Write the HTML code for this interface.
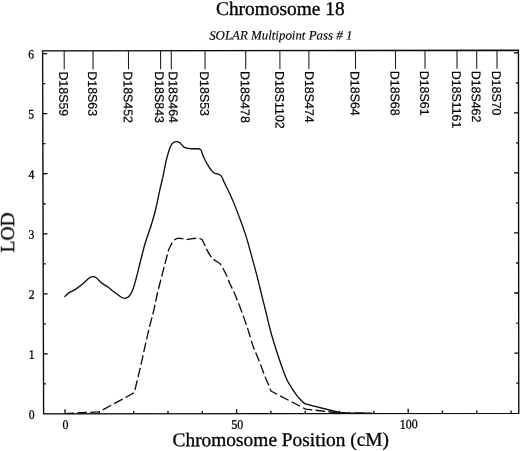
<!DOCTYPE html>
<html><head><meta charset="utf-8"><title>Chromosome 18</title>
<style>html,body{margin:0;padding:0;background:#fff}svg{display:block}text{fill:#000;stroke:#000;stroke-width:0.3px}.sans text{stroke-width:0.2px}.serif{font-family:"Liberation Serif",serif}.sans{font-family:"Liberation Sans",sans-serif}</style></head><body>
<svg width="520" height="451" viewBox="0 0 520 451">
<defs><filter id="soft" x="-2%" y="-2%" width="104%" height="104%"><feGaussianBlur stdDeviation="0.38"/></filter></defs>
<rect width="520" height="451" fill="#fff"/>
<g filter="url(#soft)">
<polygon points="42.6,50.8 518.45,50.2 518.75,413.3 43.6,413.8" fill="none" stroke="#080808" stroke-width="1.35"/>
<g transform="rotate(-0.1 281 232)">
<g fill="none" stroke="#080808" stroke-width="1.3">
<path d="M43.10,383.52h2.50M518.60,383.52h-2.50M43.10,353.49h4.40M518.60,353.49h-4.40M43.10,323.46h2.50M518.60,323.46h-2.50M43.10,293.43h4.40M518.60,293.43h-4.40M43.10,263.40h2.50M518.60,263.40h-2.50M43.10,233.37h4.40M518.60,233.37h-4.40M43.10,203.34h2.50M518.60,203.34h-2.50M43.10,173.31h4.40M518.60,173.31h-4.40M43.10,143.28h2.50M518.60,143.28h-2.50M43.10,113.25h4.40M518.60,113.25h-4.40M43.10,83.22h2.50M518.60,83.22h-2.50M43.10,53.19h4.40M518.60,53.19h-4.40M64.75,413.55v-4.70M99.06,413.55v-2.70M133.37,413.55v-2.70M167.68,413.55v-2.70M201.99,413.55v-2.70M236.30,413.55v-4.70M270.61,413.55v-2.70M304.92,413.55v-2.70M339.23,413.55v-2.70M373.54,413.55v-2.70M407.85,413.55v-4.70M442.16,413.55v-2.70M476.47,413.55v-2.70M510.78,413.55v-2.70"/>
<path d="M64.50,50.50V69.10M93.30,50.50V69.10M128.80,50.50V69.10M160.90,50.50V69.10M171.60,50.50V69.10M205.30,50.50V69.10M246.00,50.50V69.10M280.20,50.50V69.10M309.20,50.50V69.10M355.80,50.50V69.10M395.80,50.50V69.10M425.30,50.50V69.10M457.30,50.50V69.10M477.00,50.50V69.10M497.30,50.50V69.10" stroke-width="1.05" stroke="#1a1a1a"/>
<path d="M64.25,296.50C65.00,295.83 66.96,293.71 68.75,292.50C70.54,291.29 72.71,290.71 75.00,289.25C77.29,287.79 80.21,285.62 82.50,283.75C84.79,281.88 87.08,279.25 88.75,278.00C90.42,276.75 91.25,276.33 92.50,276.25C93.75,276.17 94.79,276.46 96.25,277.50C97.71,278.54 99.38,281.00 101.25,282.50C103.12,284.00 105.21,284.83 107.50,286.50C109.79,288.17 112.71,290.75 115.00,292.50C117.29,294.25 119.58,296.08 121.25,297.00C122.92,297.92 123.75,298.12 125.00,298.00C126.25,297.88 127.50,297.58 128.75,296.25C130.00,294.92 131.25,293.12 132.50,290.00C133.75,286.88 135.00,282.08 136.25,277.50C137.50,272.92 138.51,268.29 140.00,262.50C141.49,256.71 143.47,248.58 145.20,242.75C146.93,236.92 148.68,232.96 150.40,227.50C152.12,222.04 153.90,216.38 155.50,210.00C157.10,203.62 158.73,194.83 160.00,189.20C161.27,183.57 162.07,180.93 163.10,176.20C164.13,171.47 165.18,165.17 166.20,160.80C167.22,156.43 168.32,152.70 169.20,150.00C170.08,147.30 170.73,145.88 171.50,144.60C172.27,143.32 172.90,142.82 173.80,142.30C174.70,141.78 175.87,141.45 176.90,141.50C177.93,141.55 179.10,142.00 180.00,142.60C180.90,143.20 181.53,144.33 182.30,145.10C183.07,145.87 183.32,146.63 184.60,147.20C185.88,147.77 188.07,148.27 190.00,148.50C191.93,148.73 194.53,148.53 196.20,148.60C197.87,148.67 199.10,148.53 200.00,148.90C200.90,149.27 201.08,149.72 201.60,150.80C202.12,151.88 202.47,153.80 203.10,155.40C203.73,157.00 204.50,158.67 205.40,160.40C206.30,162.13 207.47,164.12 208.50,165.80C209.53,167.48 210.50,169.24 211.60,170.50C212.70,171.76 214.07,172.82 215.10,173.35C216.13,173.88 216.90,173.41 217.80,173.70C218.70,173.99 219.72,174.40 220.50,175.10C221.28,175.80 221.85,176.67 222.50,177.90C223.15,179.13 223.57,180.70 224.40,182.50C225.23,184.30 226.53,186.70 227.50,188.70C228.47,190.70 229.07,191.98 230.20,194.50C231.33,197.02 232.60,199.55 234.30,203.80C236.00,208.05 238.73,215.47 240.40,220.00C242.07,224.53 243.17,227.67 244.30,231.00C245.43,234.33 245.92,235.58 247.20,240.00C248.48,244.42 250.42,251.67 252.00,257.50C253.58,263.33 255.10,268.75 256.70,275.00C258.30,281.25 260.07,288.75 261.60,295.00C263.13,301.25 264.48,306.67 265.90,312.50C267.32,318.33 268.93,325.42 270.10,330.00C271.28,334.58 271.67,335.75 272.95,340.00C274.23,344.25 276.04,350.17 277.80,355.50C279.56,360.83 281.97,367.83 283.50,372.00C285.03,376.17 285.64,377.78 287.00,380.50C288.36,383.22 289.97,385.70 291.65,388.30C293.33,390.90 295.51,394.03 297.10,396.10C298.69,398.17 300.15,399.58 301.20,400.70C302.25,401.82 302.78,402.28 303.40,402.80C304.02,403.32 304.65,403.63 304.90,403.80L339.00,412.60L345.00,413.20L372.00,413.40" stroke-width="1.3" stroke-linejoin="round"/>
<path d="M64.60,413.30L98.80,411.50L134.00,392.50C134.71,389.58 136.93,380.52 138.25,375.00C139.57,369.48 140.68,364.78 141.90,359.40C143.12,354.02 144.29,348.43 145.60,342.70C146.91,336.97 148.38,330.55 149.75,325.00C151.12,319.45 152.51,314.85 153.80,309.40C155.09,303.95 156.25,297.62 157.50,292.30C158.75,286.98 160.05,282.37 161.30,277.50C162.55,272.63 163.97,267.06 165.00,263.10C166.03,259.14 166.92,255.93 167.50,253.75C168.08,251.57 168.00,251.38 168.50,250.00C169.00,248.62 169.83,246.85 170.50,245.50C171.17,244.15 171.85,242.86 172.50,241.90C173.15,240.94 173.57,240.38 174.40,239.75C175.23,239.12 176.48,238.34 177.50,238.10C178.52,237.86 179.46,238.19 180.50,238.30C181.54,238.41 182.75,238.57 183.75,238.75C184.75,238.93 185.29,239.41 186.50,239.40C187.71,239.39 189.38,238.92 191.00,238.70C192.62,238.48 194.85,238.13 196.25,238.10C197.65,238.07 198.46,238.28 199.40,238.50C200.34,238.72 201.30,238.90 201.90,239.40C202.50,239.90 202.53,240.57 203.00,241.50C203.47,242.43 204.21,243.79 204.75,245.00C205.29,246.21 205.17,246.77 206.25,248.75C207.33,250.73 210.11,255.19 211.25,256.90C212.39,258.61 211.74,257.97 213.10,259.00C214.46,260.03 218.15,262.20 219.40,263.10C220.65,264.00 220.08,263.67 220.60,264.40C221.12,265.13 221.45,265.52 222.50,267.50C223.55,269.48 225.70,273.62 226.90,276.25C228.10,278.88 228.25,279.99 229.70,283.30C231.15,286.61 233.65,291.45 235.60,296.10C237.55,300.75 239.47,305.95 241.40,311.20C243.33,316.45 245.35,321.97 247.20,327.60C249.05,333.23 250.93,340.40 252.50,345.00C254.07,349.60 255.27,351.87 256.60,355.20C257.93,358.53 259.14,361.43 260.50,365.00C261.86,368.57 263.40,373.17 264.75,376.60C266.10,380.03 267.62,383.20 268.60,385.60C269.58,388.00 270.27,390.10 270.60,391.00L305.20,409.10L339.00,413.10L365.00,413.40" stroke-width="1.3" stroke-dasharray="9.6 3.35" stroke-dashoffset="0.5" stroke-linejoin="round"/>
</g>
<g class="sans" font-size="12.6">
<text transform="translate(64.50,71) rotate(90) scale(0.985,1)" x="0" y="4.9">D18S59</text>
<text transform="translate(93.30,71) rotate(90) scale(0.985,1)" x="0" y="4.9">D18S63</text>
<text transform="translate(128.80,71) rotate(90) scale(0.985,1)" x="0" y="4.9">D18S452</text>
<text transform="translate(160.90,71) rotate(90) scale(0.985,1)" x="0" y="5.7">D18S843</text>
<text transform="translate(171.60,71) rotate(90) scale(0.985,1)" x="0" y="2.5">D18S464</text>
<text transform="translate(205.30,71) rotate(90) scale(0.985,1)" x="0" y="4.9">D18S53</text>
<text transform="translate(246.00,71) rotate(90) scale(0.985,1)" x="0" y="4.9">D18S478</text>
<text transform="translate(280.20,71) rotate(90) scale(0.985,1)" x="0" y="4.6">D18S1102</text>
<text transform="translate(309.20,71) rotate(90) scale(0.985,1)" x="0" y="3.9">D18S474</text>
<text transform="translate(355.80,71) rotate(90) scale(0.985,1)" x="0" y="4.9">D18S64</text>
<text transform="translate(395.80,71) rotate(90) scale(0.985,1)" x="0" y="4.9">D18S68</text>
<text transform="translate(425.30,71) rotate(90) scale(0.985,1)" x="0" y="4.9">D18S61</text>
<text transform="translate(457.30,71) rotate(90) scale(0.985,1)" x="0" y="4.9">D18S1161</text>
<text transform="translate(477.00,71) rotate(90) scale(0.985,1)" x="0" y="4.9">D18S462</text>
<text transform="translate(497.30,71) rotate(90) scale(0.985,1)" x="0" y="4.9">D18S70</text>
</g>
<g class="serif" font-size="13">
<text transform="translate(34.4,418.45) scale(0.9,1)" text-anchor="end">0</text>
<text transform="translate(34.4,358.39) scale(0.9,1)" text-anchor="end">1</text>
<text transform="translate(34.4,298.33) scale(0.9,1)" text-anchor="end">2</text>
<text transform="translate(34.4,238.27) scale(0.9,1)" text-anchor="end">3</text>
<text transform="translate(34.4,178.21) scale(0.9,1)" text-anchor="end">4</text>
<text transform="translate(34.4,118.15) scale(0.9,1)" text-anchor="end">5</text>
<text transform="translate(34.4,58.09) scale(0.9,1)" text-anchor="end">6</text>
<text transform="translate(65.25,428.6) scale(0.92,1)" text-anchor="middle">0</text>
<text transform="translate(236.80,428.6) scale(0.92,1)" text-anchor="middle">50</text>
<text transform="translate(408.35,428.6) scale(0.92,1)" text-anchor="middle">100</text>
</g>
<text class="serif" font-size="19.4" x="280.7" y="15" text-anchor="middle">Chromosome 18</text>
<text class="serif" font-size="12.9" font-style="italic" style="stroke-width:0.15px" x="281.1" y="39.5" text-anchor="middle">SOLAR Multipoint Pass # 1</text>
<text class="serif" font-size="19.4" x="280.4" y="446" text-anchor="middle">Chromosome Position (cM)</text>
<text class="serif" font-size="19.4" transform="translate(14.1,232.0) rotate(-90)" text-anchor="middle">LOD</text>
</g>
</g>
</svg></body></html>
